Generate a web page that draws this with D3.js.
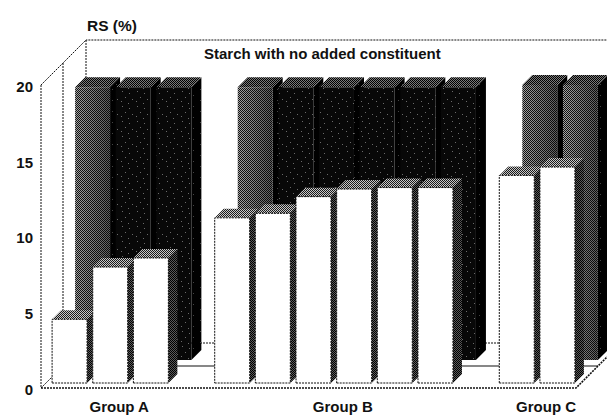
<!DOCTYPE html>
<html>
<head>
<meta charset="utf-8">
<script src="https://cdn.jsdelivr.net/npm/d3@7"></script>
<style>
  html, body { margin: 0; padding: 0; background: #fff; }
  svg { display: block; font-family: "Liberation Sans", Arial, Helvetica, sans-serif; }
</style>
</head>
<body>
<svg id="chart" width="607" height="416"></svg>
<script>
// Resistant starch (RS, %) per sample; front row with added constituent,
// back row the same starch with no added constituent.
const groups = ["Group A", "Group B", "Group C"];
const samples = ["A1", "A2", "A3", "B1", "B2", "B3", "B4", "B5", "B6", "C1", "C2"];
const sampleGroup = ["Group A", "Group A", "Group A",
                     "Group B", "Group B", "Group B", "Group B", "Group B", "Group B",
                     "Group C", "Group C"];
const rsWithConstituent = [4.2, 7.65, 8.25, 10.9, 11.2, 12.3, 12.8, 12.9, 12.9, 13.7, 14.25];
const rsNoConstituent   = [18.0, 18.0, 18.0, 18.0, 18.0, 18.0, 18.0, 18.0, 18.0, 18.15, 18.15];
const yTicks = [0, 5, 10, 15, 20];
const yTitle = "RS (%)";
const backRowTitle = "Starch with no added constituent";

const svg = d3.select("#chart");

// ---- oblique 3-D frame: depth d shifts a point right by d and up by d ----
const DEPTH = 45;          // floor depth (back wall)
const DIVIDER = 22;        // line between the two rows
const FRONT_ROW = [5, 14]; // depth span of the front bars
const BACK_ROW = [28, 38]; // depth span of the back bars

// category slots, with an empty slot between groups
const slots = [];
groups.forEach((g, gi) => {
  if (gi > 0) slots.push("gap" + gi);
  samples.forEach((s, i) => { if (sampleGroup[i] === g) slots.push(s); });
});

const x = d3.scaleBand().domain(slots).range([41, 576]).paddingInner(0.14).paddingOuter(0.15);
const y = d3.scaleLinear().domain([0, 20]).range([388, 85]);

const P = (px, v, d) => [px + d, y(v) - d];
const X0 = x.range()[0], X1 = x.range()[1];

// ---- textures ----
const defs = svg.append("defs");
function checker(id, a, b) {
  const p = defs.append("pattern").attr("id", id)
    .attr("patternUnits", "userSpaceOnUse").attr("width", 2).attr("height", 2);
  p.append("rect").attr("width", 2).attr("height", 2).attr("fill", b);
  p.append("rect").attr("width", 1).attr("height", 1).attr("fill", a);
  p.append("rect").attr("x", 1).attr("y", 1).attr("width", 1).attr("height", 1).attr("fill", a);
}
function speckle(id, base, dot, pts, size) {
  const p = defs.append("pattern").attr("id", id)
    .attr("patternUnits", "userSpaceOnUse").attr("width", size).attr("height", size);
  p.append("rect").attr("width", size).attr("height", size).attr("fill", base);
  pts.forEach(([px, py]) => p.append("rect").attr("x", px).attr("y", py)
    .attr("width", 1).attr("height", 1).attr("fill", dot));
}
checker("topGray", "#1a1a1a", "#c8c8c8");     // tops of front bars
checker("sideDark", "#000", "#5a5a5a");       // sides of front bars
checker("litFront", "#111", "#a8a8a8");       // lit fronts of back bars
checker("backTop", "#000", "#7a7a7a");        // tops of back bars
speckle("darkFront", "#080808", "#6a6a6a",
        [[2, 1], [9, 3], [5, 7], [12, 9], [1, 11], [8, 13]], 15);
speckle("darkSide", "#000", "#444", [[2, 1], [6, 7]], 11);

// soft light falling off to the right across a lit face
const grad = defs.append("linearGradient").attr("id", "shade")
  .attr("x1", "0").attr("x2", "1").attr("y1", "0").attr("y2", "0");
grad.append("stop").attr("offset", "0").attr("stop-color", "#000").attr("stop-opacity", 0);
grad.append("stop").attr("offset", "1").attr("stop-color", "#000").attr("stop-opacity", 0.45);

const dotted = sel => sel.attr("fill", "none").attr("stroke", "#111")
  .attr("stroke-width", 1).attr("stroke-dasharray", "2,1");
const line = d3.line();

const frame = svg.append("g");
// back wall top edge, left wall, back floor edge
frame.append("path").call(dotted).attr("d", line([P(X0, 20, 0), P(X0, 20, DEPTH), P(X1, 20, DEPTH)]));
frame.append("path").call(dotted).attr("d", line([P(X0, 20, DEPTH), P(X0, 0, DEPTH)]));
frame.append("path").call(dotted).attr("d", line([P(X0, 0, DEPTH), P(X1, 0, DEPTH)]));
frame.append("path").call(dotted).attr("d", line([P(X0, 0, 0), P(X0, 0, DEPTH)]));

// draw one prism: side, top, then front face
function prism(g, slot, value, d0, d1, fills, frontStroke, shaded) {
  const a = x(slot), b = x(slot) + x.bandwidth();
  g.append("path").attr("fill", fills.side)
    .attr("d", line([P(b, 0, d0), P(b, 0, d1), P(b, value, d1), P(b, value, d0)]) + "Z");
  g.append("path").attr("fill", fills.top)
    .attr("d", line([P(a, value, d0), P(b, value, d0), P(b, value, d1), P(a, value, d1)]) + "Z");
  const frontD = line([P(a, 0, d0), P(b, 0, d0), P(b, value, d0), P(a, value, d0)]) + "Z";
  const f = g.append("path").attr("fill", fills.front).attr("d", frontD);
  if (shaded) g.append("path").attr("fill", "url(#shade)").attr("d", frontD);
  if (frontStroke) f.attr("stroke", "#111").attr("stroke-width", 1).attr("stroke-dasharray", "2,1");
}

// back row
const backG = svg.append("g");
samples.forEach((s, i) => {
  const g = sampleGroup[i];
  const firstInGroup = sampleGroup.indexOf(g) === i;
  const lit = firstInGroup || g === groups[groups.length - 1];
  prism(backG, s, rsNoConstituent[i], BACK_ROW[0], BACK_ROW[1], {
    side: "url(#darkSide)", top: "url(#backTop)",
    front: lit ? "url(#litFront)" : "url(#darkFront)"
  }, false, lit);
});

// row divider on the left wall and the floor
svg.append("path").call(dotted).attr("d", line([P(X0, 20, DIVIDER), P(X0, 0, DIVIDER)]));
svg.append("path").attr("fill", "none").attr("stroke", "#111").attr("stroke-width", 1.2)
  .attr("d", line([P(X0, 0, DIVIDER), P(X1, 0, DIVIDER)]));

// front row
const frontG = svg.append("g");
samples.forEach((s, i) => {
  prism(frontG, s, rsWithConstituent[i], FRONT_ROW[0], FRONT_ROW[1], {
    side: "url(#sideDark)", top: "url(#topGray)", front: "#fff"
  }, true, false);
});

// front floor edge, value axis, right floor edge
svg.append("path").call(dotted).attr("stroke-width", 1.6)
  .attr("d", line([P(X0, 0, 0), P(X1, 0, 0), P(X1, 0, DEPTH)]));
svg.append("path").call(dotted).attr("d", line([P(X0, 20, 0), P(X0, 0, 0)]));

// value axis labels
const axisG = svg.append("g").attr("font-size", 15).attr("font-weight", "bold").attr("fill", "#111");
axisG.selectAll("text").data(yTicks).join("text")
  .attr("x", 33).attr("y", d => y(d) + 3).attr("dominant-baseline", "middle")
  .attr("text-anchor", "end").text(d => d);

svg.append("text").attr("x", 87).attr("y", 31).attr("font-size", 15.5).attr("font-weight", "bold")
  .attr("fill", "#111").text(yTitle);
svg.append("text").attr("x", 204).attr("y", 59).attr("font-size", 15).attr("font-weight", "bold")
  .attr("fill", "#111").text(backRowTitle);

// group labels under each group of bars
svg.append("g").attr("font-size", 15).attr("font-weight", "bold").attr("fill", "#111")
  .selectAll("text").data(groups).join("text")
  .attr("text-anchor", "middle").attr("y", 412)
  .attr("x", g => {
    const members = samples.filter((s, i) => sampleGroup[i] === g);
    const a = x(members[0]), b = x(members[members.length - 1]) + x.bandwidth();
    return (a + b) / 2 + FRONT_ROW[1];
  })
  .text(g => g);
</script>
</body>
</html>
